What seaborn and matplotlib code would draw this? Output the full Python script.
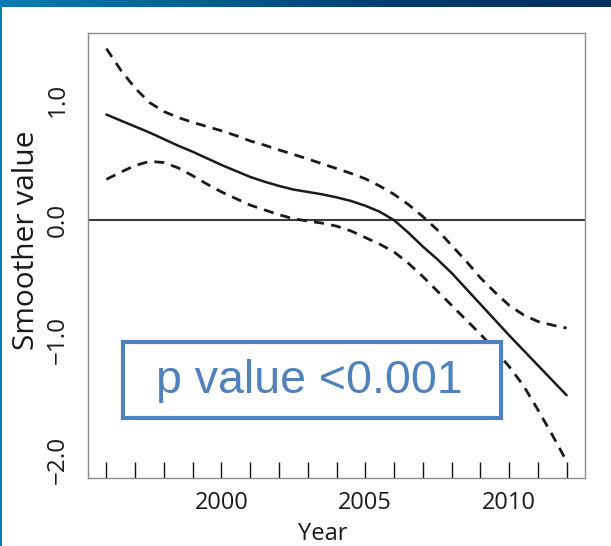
import numpy as np
import pandas as pd
import matplotlib
matplotlib.use("Agg")
import matplotlib.pyplot as plt
from matplotlib.patches import Rectangle
import seaborn as sns

# Smoothed year effect with its pointwise confidence band, read every half year
years = [1996.0, 1996.5, 1997.0, 1997.5, 1998.0, 1998.5, 1999.0, 1999.5,
         2000.0, 2000.5, 2001.0, 2001.5, 2002.0, 2002.5, 2003.0, 2003.5,
         2004.0, 2004.5, 2005.0, 2005.5, 2006.0, 2006.5, 2007.0, 2007.5,
         2008.0, 2008.5, 2009.0, 2009.5, 2010.0, 2010.5, 2011.0, 2011.5,
         2012.0]
fit = [0.88, 0.83, 0.78, 0.73, 0.675, 0.62, 0.57, 0.515,
       0.46, 0.41, 0.36, 0.32, 0.285, 0.255, 0.235, 0.215,
       0.19, 0.16, 0.12, 0.07, 0.0, -0.105, -0.22, -0.325,
       -0.44, -0.57, -0.70, -0.83, -0.96, -1.085, -1.21, -1.335,
       -1.46]
upper = [1.43, 1.25, 1.10, 0.98, 0.905, 0.855, 0.815, 0.78,
         0.745, 0.705, 0.66, 0.625, 0.585, 0.548, 0.51, 0.47,
         0.43, 0.39, 0.345, 0.285, 0.215, 0.13, 0.03, -0.08,
         -0.21, -0.34, -0.48, -0.60, -0.71, -0.79, -0.845, -0.875,
         -0.90]
lower = [0.34, 0.40, 0.455, 0.49, 0.48, 0.435, 0.37, 0.30,
         0.235, 0.18, 0.125, 0.085, 0.045, 0.012, -0.008, -0.025,
         -0.05, -0.09, -0.145, -0.20, -0.265, -0.36, -0.47, -0.59,
         -0.71, -0.83, -0.95, -1.08, -1.22, -1.38, -1.58, -1.79,
         -2.01]

# years with observations (rug)
obs_years = [1996, 1997, 1998, 1999, 2000, 2001, 2002, 2003, 2004,
             2005, 2006, 2007, 2008, 2009, 2010, 2011, 2012]

y_ticks = [-2.0, -1.5, -1.0, -0.5, 0.0, 0.5, 1.0, 1.5]
y_labels = ["\u22122.0", "", "\u22121.0", "", "0.0", "", "1.0", ""]
x_ticks = [2000, 2005, 2010]
x_labels = ["2000", "2005", "2010"]
annotation = "p value <0.001"

sns.set_style("white")
plt.rcParams["font.family"] = ["Open Sans", "DejaVu Sans"]

W, H = 611, 546
fig = plt.figure(figsize=(W / 100, H / 100), dpi=100)
ax = fig.add_axes([88 / W, (H - 478) / H, (585 - 88) / W, (478 - 33) / H])

df = pd.DataFrame({"year": years, "fit": fit, "upper": upper, "lower": lower})
sns.lineplot(data=df, x="year", y="fit", ax=ax, color="#1a1a1a", lw=1.8)
for col in ["upper", "lower"]:
    sns.lineplot(data=df, x="year", y=col, ax=ax, color="#1a1a1a", lw=2.0,
                 linestyle=(0, (3.6, 2.6)))
ax.axhline(0, color="#3a3a3a", lw=1.5, zorder=1)

# rug of observation years along the bottom
sns.rugplot(x=obs_years, ax=ax, height=0.037, color="#111111", lw=2.0,
            expand_margins=False)

ax.set_xlim(1995.36, 2012.64)
ax.set_ylim(-2.15, 1.56)

ax.set_xticks(x_ticks)
ax.set_xticklabels(x_labels, fontsize=17)
ax.set_yticks(y_ticks)
ax.set_yticklabels(y_labels, fontsize=17.5, rotation=90, va="center")
ax.tick_params(axis="x", direction="out", length=6.5, width=1,
               color="#8a8a8a", pad=3, labelcolor="#1a1a1a")
ax.tick_params(axis="y", direction="out", length=6, width=1,
               color="#8a8a8a", pad=7, labelcolor="#1a1a1a")
for s in ax.spines.values():
    s.set_color("#8c8c8c")
    s.set_linewidth(1.0)

ax.set_xlabel("Year", fontsize=17, color="#1a1a1a")
ax.set_ylabel("Smoother value", fontsize=21.5, color="#1a1a1a")
ax.xaxis.set_label_coords(0.473, -0.100)
ax.yaxis.set_label_coords(-0.095, 0.535)

# annotation box
box = Rectangle((123 / W, (H - 418) / H), (501 - 123) / W, (418 - 342) / H,
                transform=fig.transFigure, facecolor="white",
                edgecolor="#4f81bd", lw=3.0, zorder=5)
fig.patches.append(box)
fig.text(309 / W, (H - 381) / H, annotation, transform=fig.transFigure,
         ha="center", va="center", fontsize=33.5, color="#4f81bd",
         family=["Liberation Sans", "DejaVu Sans"], zorder=6)

# slide frame: gradient strip on top and thin edge on the left
strip = fig.add_axes([0, 1 - 7 / H, 1, 7 / H])
grad = np.linspace(0, 1, 256).reshape(1, -1)
cmap = matplotlib.colors.LinearSegmentedColormap.from_list(
    "frame", ["#0a7db4", "#00608f", "#003a6b", "#00305e"])
strip.imshow(grad, aspect="auto", cmap=cmap)
strip.set_axis_off()
fig.patches.append(Rectangle((0, 0), 1.5 / W, 1, transform=fig.transFigure,
                             facecolor="#0a7db4", edgecolor="none", zorder=7))

fig.savefig("out.png", dpi=100)
